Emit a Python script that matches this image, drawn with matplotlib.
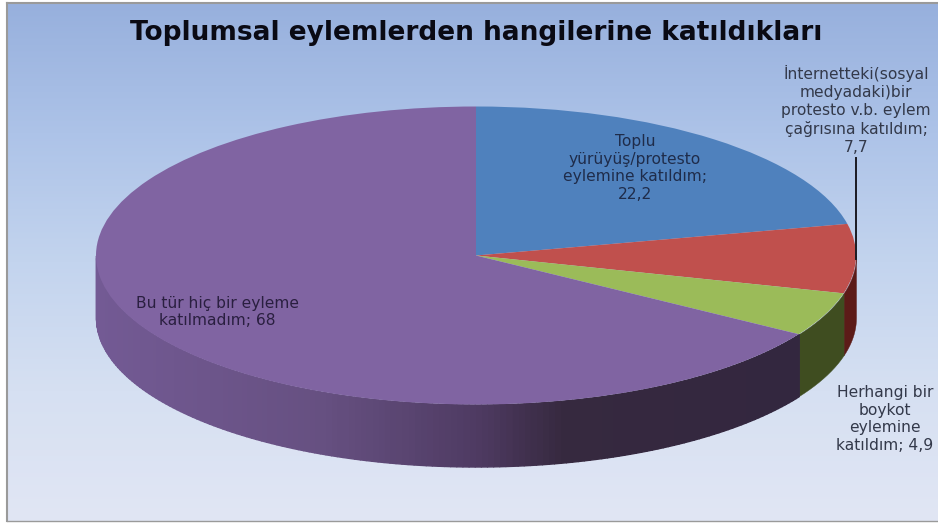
import numpy as np
import matplotlib
matplotlib.use('Agg')
import matplotlib.pyplot as plt
from matplotlib.colors import LinearSegmentedColormap

W, H = 938, 523

title = 'Toplumsal eylemlerden hangilerine katıldıkları'
labels = ['Toplu\nyürüyüş/protesto\neylemine katıldım;\n',
          'İnternetteki(sosyal\nmedyadaki)bir\nprotesto v.b. eylem\nçağrısına katıldım;\n',
          'Herhangi bir\nboykot\neylemine\nkatıldım; ',
          'Bu tür hiç bir eyleme\nkatılmadım; ']
values = [22.2, 7.7, 4.9, 68]
top_colors = ['#4f81bd', '#c0504d', '#9bbb59', '#8064a2']
side_colors = ['#2c4a6e', '#5c1b18', '#3f4d20', '#4d3a60']
label_pos = [(635, 168), (856, 110), (885, 419), (217, 312)]
label_colors = ['#1f2c4a', '#33394a', '#33394a', '#2a1f40']

# центр и полуоси эллипса в пикселях
cx, cy, rx, ry = 476, 255.5, 380, 149
depth = 62 / ry

purple_side = LinearSegmentedColormap.from_list(
    'side', [(0, '#735a94'), (0.3, '#665081'), (0.5, '#4f3b63'), (0.62, '#36293f'), (1, '#32263f')])

plt.rcParams['font.family'] = ['DejaVu Sans']
fig = plt.figure(figsize=(W / 100, H / 100), dpi=100, facecolor='white')


def fx(x):
    return x / W


def fy(y):
    return 1 - y / H


# фон слайда
bg = fig.add_axes([fx(7), fy(521), fx(W - 7), 518 / H])
grad = LinearSegmentedColormap.from_list(
    'bg', [(0, '#97b0dd'), (0.25, '#adc3e8'), (0.5, '#c3d4ee'), (0.75, '#d6e0f2'), (1, '#e1e6f4')])
bg.imshow(np.linspace(0, 1, 256).reshape(-1, 1), aspect='auto', cmap=grad)
bg.set_xticks([])
bg.set_yticks([])
for name, sp in bg.spines.items():
    sp.set_color('#9a9a9a')
    sp.set_linewidth(1.5 if name in ('left', 'top') else 1)
bg.spines['right'].set_visible(False)

# круговая диаграмма
ax = fig.add_axes([0, 0, 1, 1])
ax.patch.set_alpha(0)

edges = np.concatenate([[0], np.cumsum(values)]) / sum(values)

# боковая стенка: видна только нижняя половина эллипса
for i in range(len(values)):
    a0 = max(edges[i], 0.25)
    a1 = min(edges[i + 1], 0.75)
    if a1 <= a0:
        continue
    n = 160 if i == 3 else 1
    steps = np.linspace(a0, a1, n + 1)
    for j in range(n):
        t = np.linspace(steps[j], steps[j + 1], 12) * 2 * np.pi
        xs = np.sin(t)
        ys = np.cos(t)
        if i == 3:
            c = purple_side((xs[0] + 1) / 2)
        else:
            c = side_colors[i]
        ax.fill_between(xs, ys, ys - depth, color=c, lw=1 if i == 3 else 0.3)

ax.pie(values, colors=top_colors, startangle=90, counterclock=False, radius=1,
       wedgeprops={'linewidth': 0})
ax.set_aspect('auto')
ax.set_xlim(-cx / rx, (W - cx) / rx)
ax.set_ylim((cy - H) / ry, cy / ry)
ax.axis('off')

# выноска к подписи
fig.add_artist(plt.Line2D([fx(855.5), fx(855.5)], [fy(158), fy(259)], color='#1a1a22', lw=1.4))

fig.text(fx(476), fy(33), title, fontsize=19, fontweight='bold', color='#0a0a14',
         ha='center', va='center')

for lab, val, pos, col in zip(labels, values, label_pos, label_colors):
    s = lab + str(val).replace('.', ',')
    fig.text(fx(pos[0]), fy(pos[1]), s, fontsize=11.2, color=col, ha='center', va='center',
             linespacing=1.24)

fig.savefig('out.png', dpi=100)
